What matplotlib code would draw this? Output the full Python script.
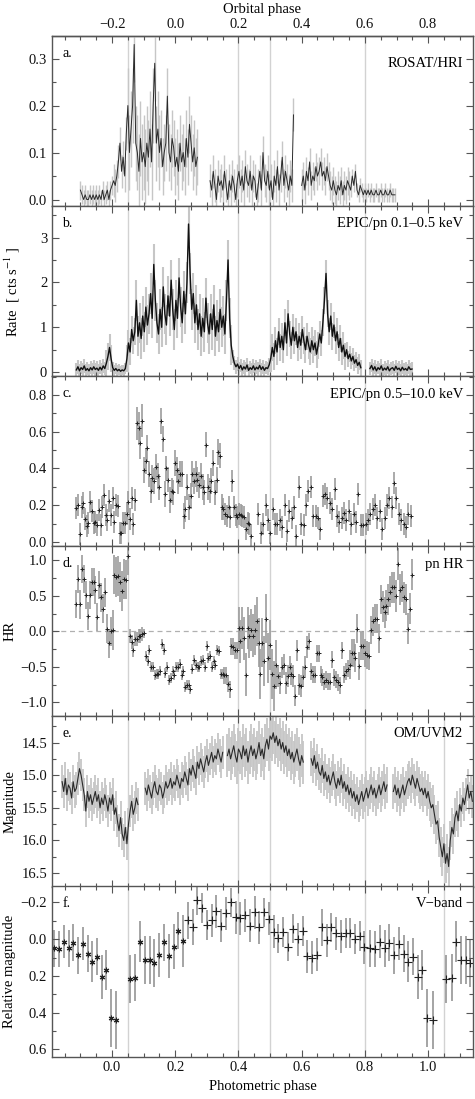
# -*- coding: utf-8 -*-
import numpy as np
import matplotlib
matplotlib.use('Agg')
import matplotlib.pyplot as plt
from matplotlib.ticker import MultipleLocator, FixedLocator

plt.rcParams.update({
    'font.family': 'Liberation Serif',
    'mathtext.fontset': 'stix',
    'font.size': 10.5,
    'axes.edgecolor': '#555555',
    'axes.linewidth': 1.0,
    'xtick.color': '#555555',
    'ytick.color': '#555555',
    'xtick.labelcolor': '#111111',
    'ytick.labelcolor': '#111111',
})

# ---------------- a. ROSAT/HRI (rate, segments of phase) ----------------
a_seg1 = [0.02, 0.01, 0.00, 0.01, 0.00, 0.00, 0.01, 0.00, 0.01, 0.00,
          0.01, 0.00, 0.01, 0.00, 0.02, 0.00, 0.01, 0.02, 0.00, 0.02,
          0.03, 0.04, 0.03, 0.05, 0.08, 0.12, 0.06, 0.09, 0.05, 0.14,
          0.20, 0.10, 0.15, 0.20, 0.33, 0.12, 0.10, 0.06, 0.13, 0.08,
          0.10, 0.07, 0.12, 0.09, 0.15, 0.08, 0.20, 0.29, 0.12, 0.15,
          0.10, 0.13, 0.07, 0.10, 0.12, 0.22, 0.10, 0.08, 0.13, 0.11,
          0.07, 0.09, 0.06, 0.12, 0.08, 0.10, 0.07, 0.13, 0.09, 0.16,
          0.12, 0.08, 0.11, 0.07, 0.09]
a_seg2 = [0.04, 0.02, 0.06, 0.03, 0.00, 0.05, 0.03, 0.04, 0.02, 0.06,
          0.03, 0.00, 0.04, 0.02, 0.05, 0.03, 0.00, 0.04, 0.06, 0.03,
          0.05, 0.02, 0.07, 0.04, 0.03, 0.06, 0.02, 0.05, 0.04, 0.00,
          0.03, 0.06, 0.02, 0.10, 0.04, 0.03, 0.06, 0.02, 0.04, 0.00,
          0.05, 0.03, 0.07, 0.02, 0.05, 0.09, 0.03, 0.06, 0.04, 0.02,
          0.05, 0.03, 0.18]
a_seg3 = [0.03, 0.05, 0.02, 0.06, 0.04, 0.08, 0.03, 0.05, 0.04, 0.07,
          0.05, 0.06, 0.08, 0.05, 0.06, 0.04, 0.07, 0.05, 0.03, 0.02,
          0.04, 0.02, 0.01, 0.03, 0.02, 0.04, 0.01, 0.03, 0.02, 0.04,
          0.03, 0.02, 0.05, 0.03, 0.06, 0.02, 0.01, 0.03, 0.02, 0.01,
          0.02, 0.01, 0.02, 0.01, 0.02, 0.01, 0.01, 0.02, 0.01, 0.01,
          0.02, 0.01, 0.01, 0.02, 0.01, 0.01, 0.02, 0.01, 0.01, 0.01]
a_ranges = [(-0.100, 0.270), (0.310, 0.574), (0.600, 0.895)]
a_err_edges = [0.0, 0.045, 0.15, 0.28, 0.6, 0.75]
a_err_levels = [0.02, 0.035, 0.08, 0.06, 0.035, 0.03, 0.015]

# ---------------- b. EPIC/pn 0.1-0.5 keV ----------------
b_seg1 = [0.05, 0.12, 0.03, 0.10, 0.06, 0.14, 0.04, 0.08, 0.03, 0.10,
          0.05, 0.12, 0.06, 0.09, 0.04, 0.11, 0.05, 0.14, 0.08, 0.20,
          0.35, 0.55, 0.30, 0.10, 0.04, 0.08, 0.03, 0.06, 0.02, 0.05,
          0.03, 0.08, 0.30, 0.65, 0.45, 0.95, 0.70, 0.90, 1.60, 0.80,
          1.10, 0.75, 1.25, 0.90, 1.45, 1.05, 1.30, 1.75, 1.20, 2.40,
          1.60, 1.10, 0.85, 1.40, 1.00, 1.90, 1.30, 1.05, 1.70, 1.25,
          2.05, 1.40, 0.95, 1.60, 1.20, 2.10, 1.45, 1.10, 1.80, 1.30,
          2.00, 3.30, 2.20, 1.40, 1.75, 1.10, 1.50, 0.95, 1.30, 0.80,
          1.20, 0.90, 1.65, 1.10, 0.85, 1.30, 0.95, 1.50, 0.80, 1.15,
          0.90, 1.40, 1.00, 1.25, 0.85, 1.60, 2.50, 1.20, 0.60, 0.35,
          0.20, 0.12, 0.18, 0.08, 0.15, 0.05, 0.12, 0.07, 0.16, 0.04,
          0.10, 0.06, 0.14, 0.05, 0.11, 0.07, 0.15, 0.06, 0.12, 0.04,
          0.10, 0.08, 0.16, 0.30, 0.55, 0.35, 0.70, 0.45, 0.90, 0.55,
          0.80, 0.50, 1.10, 0.65, 1.30, 0.85, 0.60, 1.00, 0.70, 0.90,
          0.55, 0.80, 0.60, 0.95, 0.70, 0.50, 0.80, 0.60, 0.45, 0.70,
          0.50, 0.65, 0.40, 0.60, 0.85, 0.65, 1.10, 1.60, 2.20, 1.30,
          0.90, 1.25, 0.80, 1.05, 0.70, 0.90, 0.55, 0.75, 0.45, 0.60,
          0.35, 0.50, 0.30, 0.40, 0.25, 0.35, 0.20, 0.28, 0.15, 0.22,
          0.10]
b_seg2 = [0.08, 0.15, 0.05, 0.12, 0.03, 0.10, 0.06, 0.14, 0.04, 0.09,
          0.05, 0.12, 0.03, 0.08, 0.10, 0.04, 0.13, 0.06, 0.09, 0.03,
          0.11, 0.05, 0.08, 0.04, 0.12, 0.06, 0.07]
b_ranges = [(-0.113, 0.787), (0.816, 0.949)]
b_err_edges = [-0.02, 0.0, 0.045, 0.075, 0.38, 0.5, 0.74, 0.8]
b_err_levels = [0.15, 0.3, 0.12, 0.3, 0.45, 0.15, 0.3, 0.18, 0.15]

# ---------------- c. EPIC/pn 0.5-10.0 keV ----------------
c_seg1 = [0.185, 0.20, 0.045, 0.19, 0.21, 0.125, 0.085, 0.105, 0.215, 0.17,
          0.105, 0.11, 0.09, 0.175, 0.09, 0.19, 0.255, 0.145, 0.12, 0.225,
          0.145, 0.24, 0.11, 0.20, 0.195, 0.05, 0.05, 0.105, 0.105, 0.15,
          0.215, 0.125, 0.24, 0.095, 0.23, 0.647, 0.62, 0.54, 0.66, 0.39,
          0.44, 0.51, 0.37, 0.28, 0.35, 0.33, 0.41, 0.36, 0.30, 0.66,
          0.56, 0.26, 0.40, 0.34, 0.23, 0.28, 0.27, 0.43, 0.39, 0.33,
          0.37, 0.37, 0.14, 0.18, 0.30, 0.19, 0.25, 0.37, 0.33, 0.37,
          0.34, 0.31, 0.36, 0.30, 0.27, 0.53, 0.30, 0.28, 0.33, 0.43,
          0.27, 0.34, 0.49, 0.47, 0.19, 0.18, 0.15, 0.14, 0.19, 0.135,
          0.33, 0.19, 0.145, 0.135, 0.15, 0.145, 0.14, 0.135, 0.07, 0.105,
          0.10, 0.03]
c_seg2 = [0.15, 0.05, 0.10, 0.20, 0.12, 0.05, 0.18, 0.10, 0.10, 0.12,
          0.08, 0.20, 0.06, 0.17, 0.13, 0.19, 0.03, 0.30, 0.10, 0.09,
          0.20, 0.28, 0.30, 0.14, 0.14, 0.13, 0.07, 0.25, 0.26, 0.24,
          0.21, 0.18, 0.29, 0.14, 0.11, 0.13, 0.16, 0.12, 0.17, 0.10,
          0.15, 0.11, 0.26, 0.09, 0.09, 0.10, 0.12, 0.15, 0.18, 0.20,
          0.13, 0.17, 0.07, 0.13, 0.20, 0.24, 0.19, 0.32, 0.24, 0.15,
          0.12, 0.10, 0.08, 0.15, 0.14]
c_ranges = [(-0.113, 0.440), (0.463, 0.945)]
c_err_edges = [0.075, 0.10, 0.35]
c_err_levels = [0.06, 0.09, 0.07, 0.06]

# ---------------- d. pn hardness ratio ----------------
d_seg1 = [0.39, 0.74, 0.38, 0.88, 0.74, 0.51, 0.22, 0.51, 0.70, 0.70,
          0.58, 0.20, 0.65, 0.48, 0.32, 0.55, 0.04, -0.17, 0.00, 0.02,
          0.80, 0.77, 0.78, 0.70, 0.57, 0.74, 0.73, 1.07]
d_seg2 = [-0.07, -0.15, -0.26, -0.11, -0.11, -0.07, -0.07, -0.04, -0.03, -0.35,
          -0.42, -0.26, -0.50, -0.50, -0.62, -0.60, -0.60, -0.56, -0.18, -0.26,
          -0.59, -0.50, -0.68, -0.66, -0.56, -0.62, -0.50, -0.50, -0.46, -0.62,
          -0.56, -0.78, -0.76, -0.76, -0.82, -0.53, -0.41, -0.48, -0.50, -0.50,
          -0.42, -0.41, -0.50, -0.21, -0.37, -0.35, -0.50, -0.42, -0.48, -0.26,
          -0.28, -0.60, -0.60, -0.62, -0.62, -0.74, -0.82, -0.21, -0.22, -0.27,
          -0.27, 0.05, -0.14, 0.05, -0.10, -0.61, 0.05, -0.07, 0.02]
d_seg3 = [-0.06, 0.02, 0.14, -0.16, -0.60, -0.16, -0.42, 0.18, -0.38, -0.19,
          -0.60, -0.77, -0.47, -0.63, -0.73, -0.51, -0.47, -0.73, -0.63, -0.50,
          -0.60, -0.63, -0.91, -0.27, -0.75, -0.77, -0.64, -0.50, -0.22, -0.14,
          -0.56, -0.61, -0.61, -0.31, -0.31, -0.61, -0.65, -0.71, -0.68, -0.71,
          -0.71, -0.40, -0.65, -0.68, -0.72, -0.76, -0.27, -0.61, -0.56, -0.53,
          -0.47, -0.31, -0.31, -0.38, 0.04, -0.49, -0.21, -0.20, -0.31, -0.33,
          -0.35, 0.02, 0.14, 0.18, 0.18, -0.10, 0.45, 0.35, 0.27, 0.36,
          0.45, 0.56, 0.62, 0.62, 0.50, 0.95, 0.59, 0.63, 0.48, 0.45,
          0.04, 0.32, 0.80]
d_ranges = [(-0.113, 0.050), (0.056, 0.440), (0.445, 0.948)]
d_err_edges = [0.0, 0.05, 0.10, 0.35, 0.40, 0.45, 0.52, 0.62, 0.75, 0.85]
d_err_levels = [0.2, 0.28, 0.1, 0.07, 0.12, 0.3, 0.35, 0.15, 0.12, 0.2, 0.22]

# ---------------- e. OM/UVM2 magnitude ----------------
e_seg1 = [15.10, 15.25, 15.05, 15.30, 15.15, 15.20, 15.35, 15.10, 15.25, 15.20,
          15.05, 14.90, 15.00, 15.15, 15.30, 15.55, 15.25, 15.40, 15.30, 15.45,
          15.35, 15.25, 15.40, 15.30, 15.50, 15.35, 15.45, 15.30, 15.40, 15.55,
          15.35, 15.45, 15.30, 15.60, 15.50, 15.70, 15.85, 15.65, 15.90, 16.00,
          15.80, 16.05, 15.75, 15.55, 15.40, 15.60, 15.50, 15.35, 15.45]
e_seg2 = [15.20, 15.30, 15.15, 15.25, 15.35, 15.20, 15.10, 15.25, 15.30, 15.15,
          15.20, 15.35, 15.25, 15.10, 15.20, 15.15, 15.05, 15.20, 15.10, 15.15,
          15.00, 15.10, 15.20, 15.05, 15.10, 14.95, 15.05, 15.15, 14.90, 15.00,
          14.85, 14.95, 15.05, 14.80, 14.90, 14.75, 14.85, 14.95, 14.80, 14.70,
          14.85, 14.75, 14.65, 14.80, 14.70, 14.75, 14.60, 14.70, 14.80, 14.65]
e_seg3 = [14.70, 14.60, 14.75, 14.65, 14.55, 14.70, 14.80, 14.60, 14.65, 14.75,
          14.55, 14.70, 14.60, 14.80, 14.65, 14.55, 14.70, 14.60, 14.75, 14.65,
          14.50, 14.70, 14.60, 14.75, 14.55, 14.45, 14.60, 14.40, 14.45, 14.35,
          14.50, 14.40, 14.55, 14.45, 14.60, 14.50, 14.65, 14.55, 14.70, 14.60,
          14.75, 14.65, 14.80, 14.70, 14.60, 14.75, 14.85, 14.70, 14.80]
e_seg4 = [14.75, 14.85, 14.70, 14.90, 14.80, 14.95, 15.00, 14.85, 15.05, 14.95,
          15.10, 15.00, 15.15, 15.05, 14.95, 15.10, 15.20, 15.05, 15.15, 15.00,
          15.20, 15.10, 15.25, 15.15, 15.30, 15.20, 15.35, 15.25, 15.40, 15.30,
          15.45, 15.35, 15.25, 15.40, 15.30, 15.20, 15.35, 15.25, 15.15, 15.30,
          15.20, 15.35, 15.25, 15.15, 15.30, 15.20, 15.10, 15.25, 15.15]
e_seg5 = [15.25, 15.15, 15.30, 15.20, 15.35, 15.25, 15.15, 15.30, 15.20, 15.10,
          15.05, 15.15, 15.00, 15.10, 15.20, 15.05, 15.15, 15.25, 15.20, 15.30,
          15.20, 15.35, 15.25, 15.40, 15.50, 15.45, 15.60, 15.75, 15.70, 15.95,
          16.10, 16.25, 16.05, 16.35, 16.20, 16.40, 16.00, 15.80, 15.90, 15.65,
          15.55, 15.70, 15.45, 15.55, 15.35, 15.45, 15.30, 15.15, 15.35, 15.25,
          15.40]
e_ranges = [(-0.158, 0.082), (0.105, 0.350), (0.365, 0.605), (0.630, 0.870), (0.890, 1.140)]
e_err_edges = [0.36, 0.62, 1.0, 1.09]
e_err_levels = [0.25, 0.33, 0.27, 0.3, 0.25]

# ---------------- f. V-band relative magnitude ----------------
f_phase = [-0.184, -0.169, -0.153, -0.137, -0.123, -0.109, -0.093, -0.077, -0.063, -0.047,
           -0.032, -0.018, -0.002, 0.014, 0.058, 0.074, 0.089, 0.103, 0.119, 0.134,
           0.149, 0.164, 0.179, 0.195, 0.210, 0.224, 0.240, 0.255, 0.268, 0.284,
           0.300, 0.316, 0.330, 0.345, 0.361, 0.376, 0.392, 0.405, 0.421, 0.437,
           0.453, 0.466, 0.481, 0.496, 0.511, 0.526, 0.542, 0.556, 0.572, 0.588,
           0.603, 0.617, 0.632, 0.648, 0.663, 0.679, 0.693, 0.709, 0.724, 0.739,
           0.753, 0.769, 0.785, 0.798]
f_mag = [0.050, 0.053, 0.014, 0.049, 0.020, 0.089, 0.024, 0.080, 0.122, 0.096,
         0.205, 0.169, 0.429, 0.440, 0.218, 0.209, 0.013, 0.113, 0.113, 0.131,
         0.087, 0.018, 0.094, 0.040, -0.047, 0.009, -0.102, -0.067, -0.211, -0.169,
         -0.078, -0.102, -0.151, -0.073, -0.142, -0.200, -0.120, -0.115, -0.131, -0.073,
         -0.146, -0.065, -0.146, -0.110, -0.040, -0.004, -0.040, 0.040, -0.057, 0.000,
         -0.045, 0.093, 0.100, 0.085, -0.065, 0.005, -0.065, -0.033, -0.015, -0.033,
         -0.033, 0.000, -0.018, 0.044]
f_err = [0.10, 0.10, 0.09, 0.10, 0.10, 0.10, 0.09, 0.10, 0.11, 0.10,
         0.12, 0.11, 0.16, 0.16, 0.13, 0.13, 0.11, 0.13, 0.13, 0.13,
         0.12, 0.10, 0.12, 0.12, 0.10, 0.14, 0.10, 0.10, 0.08, 0.08,
         0.08, 0.09, 0.09, 0.09, 0.09, 0.08, 0.09, 0.09, 0.09, 0.09,
         0.09, 0.09, 0.08, 0.09, 0.09, 0.08, 0.08, 0.08, 0.08, 0.09,
         0.08, 0.09, 0.09, 0.09, 0.10, 0.09, 0.08, 0.09, 0.09, 0.08,
         0.08, 0.08, 0.08, 0.09]

orbital_ticks = [-0.2, 0.0, 0.2, 0.4, 0.6, 0.8]
vlines_all = [0.05, 0.4, 0.5, 0.8]
vlines_opt = [0.05, 0.4, 0.5, 0.8, 1.05]


def err_for(ph, edges, levels):
    return np.array(levels)[np.searchsorted(edges, ph)]


def draw_dense(ax, segs, ranges, edges, levels, lw_err=1.0, lw=0.7, col='#2a2a2a'):
    for vals, (p0, p1) in zip(segs, ranges):
        y = np.array(vals)
        x = np.linspace(p0, p1, len(y))
        e = err_for(x, edges, levels)
        ax.vlines(x, y - e, y + e, color='#c6c6c6', lw=lw_err, zorder=1)
        ax.plot(x, y, color=col, lw=lw, zorder=2)


def draw_points(ax, segs, ranges, edges, levels):
    for vals, (p0, p1) in zip(segs, ranges):
        y = np.array(vals)
        x = np.linspace(p0, p1, len(y))
        e = err_for(x, edges, levels)
        ax.vlines(x, y - e, y + e, color='#9c9c9c', lw=1.2, zorder=1)
        ax.plot(x, y, '+', ms=3, mew=0.7, color='#222222', zorder=2)


fig = plt.figure(figsize=(4.75, 10.99), dpi=100)
W, H = 475.0, 1099.0
left, width = 52 / W, 421 / W
top_px, panel_px = 36.0, 170.1
axs = []
for i in range(6):
    b = 1 - (top_px + (i + 1) * panel_px) / H
    axs.append(fig.add_axes([left, b, width, panel_px / H]))

ylims = [(-0.014, 0.348), (-0.09, 3.70), (-0.024, 0.903), (-1.2, 1.2), (16.705, 14.1), (0.64, -0.287)]
majors = [0.1, 1, 0.2, 0.5, 0.5, 0.2]
minors = [0.05, 0.5, 0.1, 0.25, 0.25, 0.1]
letters = ['a.', 'b.', 'c.', 'd.', 'e.', 'f.']
names = ['ROSAT/HRI', 'EPIC/pn 0.1\u20130.5 keV', 'EPIC/pn 0.5\u201310.0 keV', 'pn HR', 'OM/UVM2', 'V\u2212band']
name_y = [0.84, 0.895, 0.895, 0.895, 0.897, 0.9]

for i, ax in enumerate(axs):
    ax.set_xlim(-0.19, 1.142)
    ax.set_ylim(*ylims[i])
    ax.xaxis.set_major_locator(MultipleLocator(0.2))
    ax.xaxis.set_minor_locator(MultipleLocator(0.05))
    ax.yaxis.set_major_locator(MultipleLocator(majors[i]))
    ax.yaxis.set_minor_locator(MultipleLocator(minors[i]))
    ax.tick_params(which='both', direction='in', top=(i > 0), right=True, labelbottom=(i == 5))
    ax.tick_params(which='major', length=5, width=0.8)
    ax.tick_params(which='minor', length=3, width=0.8)
    for v in (vlines_opt if i >= 4 else vlines_all):
        ax.axvline(v, color='#d2d2d2', lw=1.0, zorder=0)
    ax.text(0.024, 0.9, letters[i], transform=ax.transAxes, ha='left', va='center', fontsize=10)
    ax.text(0.976, name_y[i], names[i], transform=ax.transAxes, ha='right', va='center', fontsize=10.5)

draw_dense(axs[0], [a_seg1, a_seg2, a_seg3], a_ranges, a_err_edges, a_err_levels)
draw_dense(axs[1], [b_seg1, b_seg2], b_ranges, b_err_edges, b_err_levels,
           lw_err=1.5, lw=1.0, col='#111111')
draw_points(axs[2], [c_seg1, c_seg2], c_ranges, c_err_edges, c_err_levels)
draw_points(axs[3], [d_seg1, d_seg2, d_seg3], d_ranges, d_err_edges, d_err_levels)
axs[3].axhline(0, color='#b0b0b0', lw=0.9, ls=(0, (4, 3)), zorder=0)
draw_dense(axs[4], [e_seg1, e_seg2, e_seg3, e_seg4, e_seg5], e_ranges, e_err_edges, e_err_levels,
           lw_err=1.3, lw=0.8)

# V band: one cycle, repeated one phase later where it still falls in the window
fp = np.array(f_phase)
fm = np.array(f_mag)
fe = np.array(f_err)
axf = axs[5]
first = fp < 0.23
axf.vlines(fp, fm - fe, fm + fe, color='#8c8c8c', lw=1.1, zorder=1)
axf.plot(fp[first], fm[first], marker=(6, 2, 0), ls='none', ms=4, mew=0.8, color='#222222', zorder=2)
axf.plot(fp[~first], fm[~first], '+', ms=6, mew=0.8, color='#222222', zorder=2)
sh = fp + 1.0
keep = sh < 1.142
axf.vlines(sh[keep], fm[keep] - fe[keep], fm[keep] + fe[keep], color='#8c8c8c', lw=1.1, zorder=1)
axf.plot(sh[keep], fm[keep], '+', ms=6, mew=0.8, color='#222222', zorder=2)

# labels
axs[1].set_ylabel('Rate  [ cts s$^{-1}$ ]')
axs[3].set_ylabel('HR')
axs[4].set_ylabel('Magnitude')
axs[5].set_ylabel('Relative magnitude')
axs[1].yaxis.set_label_coords(-0.072, 0.5)
for k in (3, 4, 5):
    axs[k].yaxis.set_label_coords(-0.085, 0.5)
axs[5].set_xlabel('Photometric phase', labelpad=4)

top = axs[0].secondary_xaxis('top', functions=(lambda p: p - 0.2, lambda o: o + 0.2))
top.xaxis.set_major_locator(FixedLocator(orbital_ticks))
top.xaxis.set_minor_locator(MultipleLocator(0.05))
top.tick_params(which='both', direction='in')
top.tick_params(which='major', length=5, width=0.8)
top.tick_params(which='minor', length=3, width=0.8)
top.set_xlabel('Orbital phase', labelpad=4)

fig.savefig('out.png', dpi=100)
plt.close()
